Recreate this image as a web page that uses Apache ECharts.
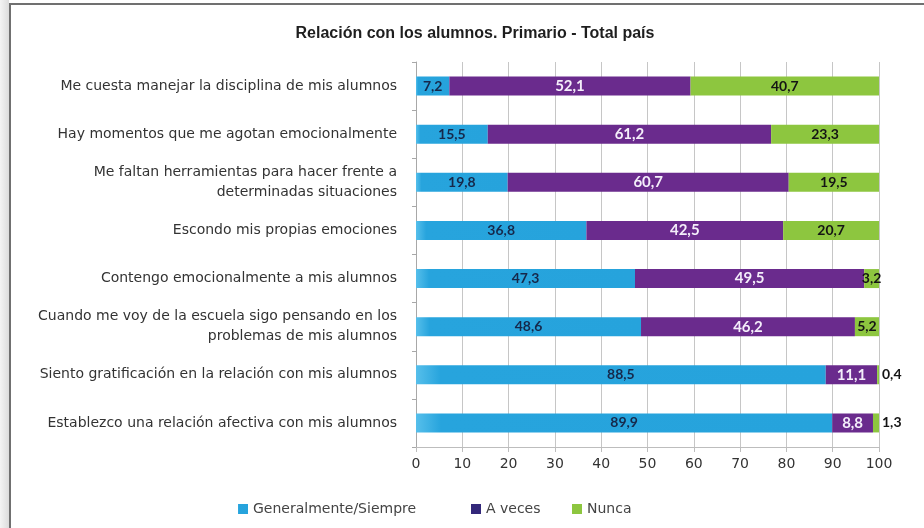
<!DOCTYPE html>
<html>
<head>
<meta charset="utf-8">
<script src="https://cdn.jsdelivr.net/npm/echarts@6/dist/echarts.min.js"></script>
<style>
  html, body { margin: 0; padding: 0; background: #fff; }
  #main { width: 924px; height: 528px; }
</style>
</head>
<body>
<div id="main"></div>
<script>
// datos
var categorias = [
    'Me cuesta manejar la disciplina de mis alumnos',
    'Hay momentos que me agotan emocionalmente',
    'Me faltan herramientas para hacer frente a\ndeterminadas situaciones',
    'Escondo mis propias emociones',
    'Contengo emocionalmente a mis alumnos',
    'Cuando me voy de la escuela sigo pensando en los\nproblemas de mis alumnos',
    'Siento gratificación en la relación con mis alumnos',
    'Establezco una relación afectiva con mis alumnos'
];
var siempre = [7.2, 15.5, 19.8, 36.8, 47.3, 48.6, 88.5, 89.9];
var aVeces = [52.1, 61.2, 60.7, 42.5, 49.5, 46.2, 11.1, 8.8];
var nunca = [40.7, 23.3, 19.5, 20.7, 3.2, 5.2, 0.4, 1.3];
var ticksX = ['0', '10', '20', '30', '40', '50', '60', '70', '80', '90', '100'];

var myChart = echarts.init(document.getElementById('main'));

function fmt(p) {
    return String(p.value).replace('.', ',');
}

var labelBase = {
    show: true,
    position: 'inside',
    fontFamily: 'Lato',
    fontWeight: 'bold',
    fontSize: 14,
    formatter: fmt
};

// valores muy chicos: etiqueta a la derecha de la barra
var nuncaData = nunca.map(function (v) {
    if (v < 2) {
        return { value: v, label: { position: 'right', distance: 3 } };
    }
    return v;
});

var legendText = {
    fontFamily: 'DejaVu Sans',
    fontSize: 14,
    color: '#444'
};

function leyenda(nombre, x, color) {
    var item = { name: nombre };
    if (color) item.itemStyle = { color: color };
    return {
        left: x,
        top: 497,
        itemWidth: 10,
        itemHeight: 10,
        icon: 'rect',
        textStyle: legendText,
        data: [item]
    };
}

var option = {
    backgroundColor: '#fff',
    animation: false,
    graphic: [
        {
            type: 'rect',
            shape: { x: 0, y: 0, width: 9, height: 528 },
            style: {
                fill: new echarts.graphic.LinearGradient(0, 0, 1, 0, [
                    { offset: 0, color: '#f4f4f4' },
                    { offset: 1, color: '#dcdcdc' }
                ])
            },
            silent: true
        },
        {
            type: 'rect',
            shape: { x: 10, y: 4, width: 940, height: 560 },
            style: { fill: 'none', stroke: '#707070', lineWidth: 2 },
            silent: true
        }
    ],
    title: {
        text: 'Relación con los alumnos. Primario - Total país',
        left: 470,
        top: 21,
        textAlign: 'center',
        textStyle: {
            fontFamily: 'Liberation Sans',
            fontSize: 16,
            fontWeight: 'bold',
            color: '#1e1e1e'
        }
    },
    legend: [
        leyenda('Generalmente/Siempre', 233),
        leyenda('A veces', 466, '#33287a'),
        leyenda('Nunca', 567)
    ],
    grid: {
        left: 416,
        right: 45,
        top: 62,
        bottom: 81
    },
    xAxis: {
        type: 'value',
        min: 0,
        max: 100,
        interval: 10,
        axisLine: { show: true, lineStyle: { color: '#bdbdbd' } },
        axisTick: { show: true, length: 5, lineStyle: { color: '#bdbdbd' } },
        splitLine: { show: true, lineStyle: { color: '#c6c6c6', width: 1 } },
        axisLabel: {
            margin: 10,
            fontFamily: 'DejaVu Sans',
            fontSize: 14,
            color: '#333',
            formatter: function (v) {
                return ticksX[Math.round(v / 10)];
            }
        }
    },
    yAxis: {
        type: 'category',
        inverse: true,
        data: categorias,
        axisLine: { show: true, lineStyle: { color: '#a8a8a8' } },
        axisTick: { show: true, length: 4, lineStyle: { color: '#a8a8a8' } },
        axisLabel: {
            margin: 19,
            fontFamily: 'DejaVu Sans',
            fontSize: 14,
            lineHeight: 20,
            color: '#333',
            align: 'right'
        }
    },
    series: [
        {
            name: 'Generalmente/Siempre',
            type: 'bar',
            stack: 'total',
            barWidth: 19,
            data: siempre,
            itemStyle: {
                color: new echarts.graphic.LinearGradient(0, 0, 1, 0, [
                    { offset: 0, color: '#56bfeb' },
                    { offset: 0.06, color: '#27a4dd' },
                    { offset: 1, color: '#26a3dc' }
                ])
            },
            label: echarts.util.merge({ color: '#16284a' }, labelBase)
        },
        {
            name: 'A veces',
            type: 'bar',
            stack: 'total',
            barWidth: 19,
            data: aVeces,
            itemStyle: { color: '#6a2b8d' },
            label: echarts.util.merge({ color: '#f4eefa', fontSize: 15 }, labelBase)
        },
        {
            name: 'Nunca',
            type: 'bar',
            stack: 'total',
            barWidth: 19,
            data: nuncaData,
            itemStyle: { color: '#8dc63f' },
            label: echarts.util.merge({ color: '#141414' }, labelBase)
        }
    ]
};

myChart.setOption(option);
</script>
</body>
</html>
